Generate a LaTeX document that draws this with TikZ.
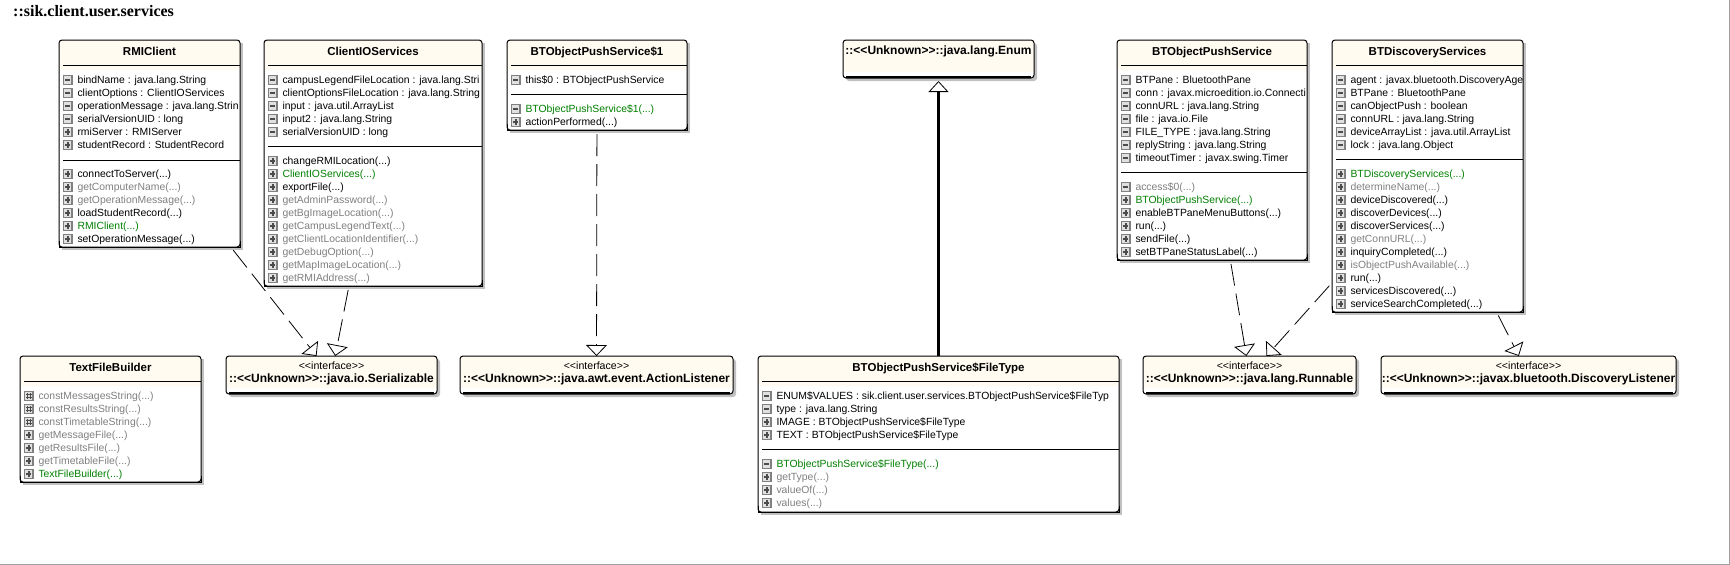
\documentclass[tikz,border=0pt]{standalone}
\usepackage{fontspec}
\setmainfont{Liberation Sans}
\newfontfamily\pkgfont{Liberation Serif}
\usepackage{xcolor}
\usetikzlibrary{arrows.meta,calc,backgrounds}
\definecolor{creamfill}{RGB}{255,251,240}
\definecolor{shadowgrey}{RGB}{192,192,192}
\definecolor{pagegrey}{RGB}{160,160,160}
\definecolor{ctorgreen}{RGB}{0,128,0}
\definecolor{hidegrey}{RGB}{128,128,128}
\definecolor{iconfill}{RGB}{224,224,224}
\newcommand{\umlclass}[6]{%
  \fill[shadowgrey] (#2+3,#3+3) rectangle ++(#4,#5);
  \node[classbox, minimum width=#4pt, minimum height=#5pt,
    path picture={\fill[creamfill] (path picture bounding box.north west) rectangle ++(#4,30);}] (#1) at (#2,#3) {};
  \draw[edge] ($(#1.south west)+(0,-6)$) -- (#1.south west) -- (#1.south east) -- ($(#1.south east)+(0,-6)$);
  \node[classtitle] (#1-title) at ($(#1.north west)+(#4/2,15)$) {#6};
  \umlsep{#1}{25}}
\newcommand{\umlsep}[2]{\draw[edge] ($(#1.north west)+(4,#2)$) -- ($(#1.north east)+(0,#2)$);}
\newcommand{\umlrows}[3]{%
  \begin{scope}
    \clip (#1.south west) rectangle ($(#1.north east)+(-0.5,0)$);
    \foreach \ic/\cc/\txt [count=\k] in {#3} {
      \pgfmathsetmacro{\yy}{#2+13*(\k-1)}
      \pic at ($(#1.north west)+(8.8,\yy)$) {icon\ic};
      \node[rowtext, text=\cc] (#1-#2-\k) at ($(#1.north west)+(18.3,\yy+3.4)$) {\txt};
    }
  \end{scope}}
\newcommand{\umliface}[7]{%
  \fill[shadowgrey, rounded corners=3pt] (#2+3,#3+3) rectangle ++(#4,#5);
  \node[ifacebox, minimum width=#4pt, minimum height=#5pt,
    path picture={\fill[creamfill] (path picture bounding box.north west) rectangle ++(#4,#5-6);}] (#1) at (#2,#3) {#6\\ #7};
  \draw[edge, line width=2pt] ($(#1.south west)+(3,-1)$) -- ($(#1.south east)+(-3,-1)$);}
\newcommand{\ifacename}{\fontsize{12}{13}\selectfont\bfseries}
\begin{document}
\begin{tikzpicture}[
  x=1pt, y=-1pt,
  edge/.style={draw=black, line width=1pt},
  classbox/.style={edge, fill=white, rounded corners=3pt, anchor=north west, inner sep=0pt, outer sep=0pt},
  ifacebox/.style={classbox, align=center, font=\fontsize{10.6}{13}\selectfont, text depth=5pt},
  classtitle/.style={anchor=base, inner sep=0pt, font=\fontsize{11.5}{13}\selectfont\bfseries},
  rowtext/.style={anchor=base west, inner sep=0pt, font=\fontsize{10.4}{13}\selectfont},
  realize/.style={draw=black, line width=0.8pt, dash pattern=on 22pt off 8pt, shorten <=4pt,
    -{Triangle[open, fill=white, length=11pt, width=21pt, line width=0.8pt, sep=0pt]}},
  inherit/.style={draw=black, line width=3pt, shorten >=3pt, shorten <=0pt,
    -{Triangle[open, fill=white, length=11pt, width=20pt, line width=0.8pt]}},
  pics/iconm/.style={code={
    \draw[draw=hidegrey, line width=1.2pt, fill=iconfill] (-4.2,-4.2) rectangle (4.2,4.2);
    \draw[draw=black!70, line width=1.4pt] (-2.6,0) -- (2.6,0);}},
  pics/iconp/.style={code={
    \draw[draw=hidegrey, line width=1.2pt, fill=iconfill] (-4.2,-4.2) rectangle (4.2,4.2);
    \draw[draw=black!70, line width=1.4pt] (-2.6,0) -- (2.6,0) (0,-2.6) -- (0,2.6);}},
  pics/iconh/.style={code={
    \draw[draw=hidegrey, line width=1.2pt, fill=iconfill] (-4.2,-4.2) rectangle (4.2,4.2);
    \draw[draw=black!70, line width=0.8pt] (-2.8,-1.3) -- (2.8,-1.3) (-2.8,1.3) -- (2.8,1.3) (-1.3,-2.8) -- (-1.3,2.8) (1.3,-2.8) -- (1.3,2.8);}}
]
\useasboundingbox (0,0) rectangle (1730,565);
\draw[draw=pagegrey, line width=1pt] (0,564.5) -- (1729.5,564.5) -- (1729.5,0);
\node[anchor=base west, inner sep=0pt, font=\pkgfont\fontsize{16}{18}\selectfont\bfseries] (pkg) at (13,16) {::sik.client.user.services};

\umlclass{RMIClient}{59}{40}{181}{207}{RMIClient}
\umlsep{RMIClient}{120}
\umlrows{RMIClient}{40}{m/black/{bindName : java.lang.String}, m/black/{clientOptions : ClientIOServices}, m/black/{operationMessage : java.lang.Strin}, m/black/{serialVersionUID : long}, p/black/{rmiServer : RMIServer}, p/black/{studentRecord : StudentRecord}}
\umlrows{RMIClient}{134}{p/black/{connectToServer(...)}, p/hidegrey/{getComputerName(...)}, p/hidegrey/{getOperationMessage(...)}, p/black/{loadStudentRecord(...)}, p/ctorgreen/{RMIClient(...)}, p/black/{setOperationMessage(...)}}

\umlclass{ClientIOServices}{264}{40}{218}{246}{ClientIOServices}
\umlsep{ClientIOServices}{106}
\umlrows{ClientIOServices}{40}{m/black/{campusLegendFileLocation : java.lang.Stri}, m/black/{clientOptionsFileLocation : java.lang.String}, m/black/{input : java.util.ArrayList}, m/black/{input2 : java.lang.String}, m/black/{serialVersionUID : long}}
\umlrows{ClientIOServices}{121}{p/black/{changeRMILocation(...)}, p/ctorgreen/{ClientIOServices(...)}, p/black/{exportFile(...)}, p/hidegrey/{getAdminPassword(...)}, p/hidegrey/{getBgImageLocation(...)}, p/hidegrey/{getCampusLegendText(...)}, p/hidegrey/{getClientLocationIdentifier(...)}, p/hidegrey/{getDebugOption(...)}, p/hidegrey/{getMapImageLocation(...)}, p/hidegrey/{getRMIAddress(...)}}

\umlclass{BTAnonymous}{507}{40}{180}{90}{BTObjectPushService\$1}
\umlsep{BTAnonymous}{54}
\umlrows{BTAnonymous}{40}{m/black/{this\$0 : BTObjectPushService}}
\umlrows{BTAnonymous}{69}{m/ctorgreen/{BTObjectPushService\$1(...)}, p/black/{actionPerformed(...)}}

\umlclass{TextFileBuilder}{20}{356}{181}{126}{TextFileBuilder}
\umlrows{TextFileBuilder}{40}{h/hidegrey/{constMessagesString(...)}, h/hidegrey/{constResultsString(...)}, h/hidegrey/{constTimetableString(...)}, p/hidegrey/{getMessageFile(...)}, p/hidegrey/{getResultsFile(...)}, p/hidegrey/{getTimetableFile(...)}, p/ctorgreen/{TextFileBuilder(...)}}

\umlclass{BTFileType}{758}{356}{361}{156}{BTObjectPushService\$FileType}
\umlsep{BTFileType}{93}
\umlrows{BTFileType}{40}{m/black/{ENUM\$VALUES : sik.client.user.services.BTObjectPushService\$FileTyp}, m/black/{type : java.lang.String}, p/black/{IMAGE : BTObjectPushService\$FileType}, p/black/{TEXT : BTObjectPushService\$FileType}}
\umlrows{BTFileType}{108}{m/ctorgreen/{BTObjectPushService\$FileType(...)}, p/hidegrey/{getType(...)}, p/hidegrey/{valueOf(...)}, p/hidegrey/{values(...)}}

\umlclass{BTPushService}{1117}{40}{190}{220}{BTObjectPushService}
\umlsep{BTPushService}{132}
\umlrows{BTPushService}{40}{m/black/{BTPane : BluetoothPane}, m/black/{conn : javax.microedition.io.Connecti}, m/black/{connURL : java.lang.String}, m/black/{file : java.io.File}, m/black/{FILE\_TYPE : java.lang.String}, m/black/{replyString : java.lang.String}, m/black/{timeoutTimer : javax.swing.Timer}}
\umlrows{BTPushService}{147}{m/hidegrey/{access\$0(...)}, p/ctorgreen/{BTObjectPushService(...)}, p/black/{enableBTPaneMenuButtons(...)}, p/black/{run(...)}, p/black/{sendFile(...)}, p/black/{setBTPaneStatusLabel(...)}}

\umlclass{BTDiscovery}{1332}{40}{191}{272}{BTDiscoveryServices}
\umlsep{BTDiscovery}{119}
\umlrows{BTDiscovery}{40}{m/black/{agent : javax.bluetooth.DiscoveryAge}, m/black/{BTPane : BluetoothPane}, m/black/{canObjectPush : boolean}, m/black/{connURL : java.lang.String}, m/black/{deviceArrayList : java.util.ArrayList}, m/black/{lock : java.lang.Object}}
\umlrows{BTDiscovery}{134}{p/ctorgreen/{BTDiscoveryServices(...)}, p/hidegrey/{determineName(...)}, p/black/{deviceDiscovered(...)}, p/black/{discoverDevices(...)}, p/black/{discoverServices(...)}, p/hidegrey/{getConnURL(...)}, p/black/{inquiryCompleted(...)}, p/hidegrey/{isObjectPushAvailable(...)}, p/black/{run(...)}, p/black/{servicesDiscovered(...)}, p/black/{serviceSearchCompleted(...)}}

\umliface{Serializable}{226}{356}{211}{38}{<{}<interface>{}>}{\ifacename ::<{}<Unknown>{}>::java.io.Serializable}
\umliface{ActionListener}{460}{356}{273}{38}{<{}<interface>{}>}{\ifacename ::<{}<Unknown>{}>::java.awt.event.ActionListener}
\umliface{Runnable}{1143}{356}{213}{38}{<{}<interface>{}>}{\ifacename ::<{}<Unknown>{}>::java.lang.Runnable}
\umliface{DiscoveryListener}{1381}{356}{295}{38}{<{}<interface>{}>}{\ifacename ::<{}<Unknown>{}>::javax.bluetooth.DiscoveryListener}
\umliface{EnumBase}{843}{40}{191}{38}{\ifacename ::<{}<Unknown>{}>::java.lang.Enum}{~}

\begin{scope}[on background layer]
\draw[realize] (RMIClient) -- (Serializable);
\draw[realize] (ClientIOServices) -- (Serializable);
\draw[realize] (BTAnonymous) -- (ActionListener);
\draw[inherit] (BTFileType) -- (EnumBase);
\draw[realize] (BTPushService) -- (Runnable);
\draw[realize] (BTDiscovery) -- (Runnable);
\draw[realize] (BTDiscovery) -- (DiscoveryListener);
\end{scope}
\end{tikzpicture}
\end{document}
